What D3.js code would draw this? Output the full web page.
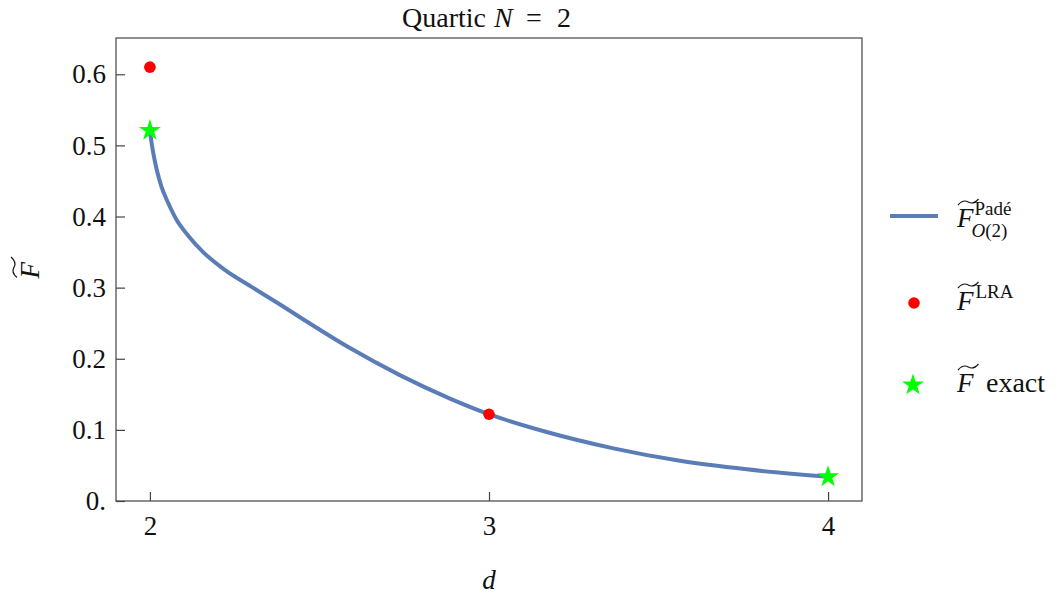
<!DOCTYPE html>
<html>
<head>
<meta charset="utf-8">
<script src="https://cdn.jsdelivr.net/npm/d3@7"></script>
<style>
  body { margin: 0; background: #fff; }
  text { font-family: "Liberation Serif", serif; fill: #111; }
</style>
</head>
<body>
<div id="chart"></div>
<script>
// Curve (Pade approximant) sampled along d
var dValues = [2.0, 2.003, 2.01, 2.02, 2.034, 2.054, 2.079, 2.113, 2.157, 2.221, 2.3, 2.378, 2.447, 2.59, 2.737, 2.885, 3.0, 3.17, 3.367, 3.563, 3.76, 4.0];
var padeValues = [0.521, 0.510, 0.489, 0.466, 0.442, 0.419, 0.395, 0.373, 0.350, 0.325, 0.301, 0.278, 0.257, 0.215, 0.177, 0.144, 0.122, 0.097, 0.074, 0.0565, 0.0445, 0.034];

// LRA points
var lraD = [2, 3];
var lraValues = [0.610, 0.122];

// Exact points
var exactD = [2, 4];
var exactValues = [0.521, 0.034];

var xTicks = [2, 3, 4];
var yTicks = [0, 0.1, 0.2, 0.3, 0.4, 0.5, 0.6];
var yTickLabels = ["0.", "0.1", "0.2", "0.3", "0.4", "0.5", "0.6"];

var lineColor = "#5b7db7";
var lraColor = "#ff0000";
var exactColor = "#00ff00";

var width = 1057, height = 594;
var margin = { top: 38, right: 195, bottom: 93, left: 116 };
var innerWidth = width - margin.left - margin.right;
var innerHeight = height - margin.top - margin.bottom;

var svg = d3.select("#chart").append("svg")
    .attr("width", width)
    .attr("height", height);

var g = svg.append("g")
    .attr("transform", `translate(${margin.left}, ${margin.top})`);

var x = d3.scaleLinear().domain([1.9, 4.1]).range([0, innerWidth]);
var y = d3.scaleLinear().domain([0, 0.651]).range([innerHeight, 0]);

// frame
g.append("rect")
    .attr("x", 0).attr("y", 0)
    .attr("width", innerWidth).attr("height", innerHeight)
    .attr("fill", "none").attr("stroke", "#444").attr("stroke-width", 1.2);

// axes with inward ticks
var xAxis = g.append("g")
    .attr("transform", `translate(0, ${innerHeight})`)
    .call(d3.axisBottom(x).tickValues(xTicks).tickSize(-9).tickPadding(15).tickFormat(d3.format("d")));
var yAxis = g.append("g")
    .call(d3.axisLeft(y).tickValues(yTicks).tickSize(-9).tickPadding(10).tickFormat((d, i) => yTickLabels[i]));

[xAxis, yAxis].forEach(function (a) {
    a.attr("font-size", null).attr("font-family", null);
    a.select(".domain").remove();
    a.selectAll("line").attr("stroke", "#444").attr("stroke-width", 1.2);
    a.selectAll("text").style("font-family", '"Liberation Serif", serif').style("font-size", "27px").attr("fill", "#111");
});

// curve
var line = d3.line()
    .x((d, i) => x(dValues[i]))
    .y(d => y(d))
    .curve(d3.curveMonotoneX);

g.append("path")
    .datum(padeValues)
    .attr("d", line)
    .attr("fill", "none")
    .attr("stroke", lineColor)
    .attr("stroke-width", 4);

// LRA dots
g.selectAll(".lra")
    .data(lraValues)
    .enter().append("circle")
    .attr("cx", (d, i) => x(lraD[i]))
    .attr("cy", d => y(d))
    .attr("r", 5.8)
    .attr("fill", lraColor);

// exact stars
var star = d3.symbol().type(d3.symbolStar).size(150);
g.selectAll(".exact")
    .data(exactValues)
    .enter().append("path")
    .attr("d", star)
    .attr("transform", (d, i) => `translate(${x(exactD[i])}, ${y(d)})`)
    .attr("fill", exactColor);

// helper: italic F with a wide tilde on top
function fTilde(parent, px, py) {
    var t = parent.append("text")
        .attr("x", px).attr("y", py)
        .style("font-size", "27px")
        .style("font-style", "italic")
        .text("F");
    var w = t.node().getComputedTextLength() + 4;
    var x0 = px + 1, y0 = py - 22;
    parent.append("path")
        .attr("d", `M${x0},${y0} Q${x0 + w * 0.25},${y0 - 6} ${x0 + w * 0.5},${y0 - 3} Q${x0 + w * 0.75},${y0} ${x0 + w},${y0 - 6}`)
        .attr("fill", "none")
        .attr("stroke", "#111")
        .attr("stroke-width", 1.2);
    return w - 4;
}

// title
var title = svg.append("text")
    .attr("y", 27)
    .style("font-size", "28px");
title.append("tspan").attr("x", 402).text("Quartic");
title.append("tspan").attr("x", 494).style("font-style", "italic").text("N");
title.append("tspan").attr("x", 526).text("=");
title.append("tspan").attr("x", 557).text("2");

// x label
svg.append("text")
    .attr("x", margin.left + innerWidth / 2)
    .attr("y", 589)
    .attr("text-anchor", "middle")
    .style("font-size", "27px")
    .style("font-style", "italic")
    .text("d");

// y label
var yl = svg.append("g").attr("transform", `translate(39, ${margin.top + innerHeight / 2}) rotate(-90)`);
fTilde(yl, -9, 0);

// legend
var legend = svg.append("g");
var lx = 957;

legend.append("line")
    .attr("x1", 890).attr("x2", 938)
    .attr("y1", 216).attr("y2", 216)
    .attr("stroke", lineColor).attr("stroke-width", 4);
var w1 = fTilde(legend, lx, 227);
legend.append("text").attr("x", lx + w1 + 1).attr("y", 215)
    .style("font-size", "19px").text("Padé");
var sub = legend.append("text").attr("x", lx + w1 - 2).attr("y", 237)
    .style("font-size", "19px");
sub.append("tspan").style("font-style", "italic").text("O");
sub.append("tspan").text("(2)");

legend.append("circle")
    .attr("cx", 914).attr("cy", 303).attr("r", 5.8)
    .attr("fill", lraColor);
var w2 = fTilde(legend, lx, 310);
legend.append("text").attr("x", lx + w2 + 2).attr("y", 298)
    .style("font-size", "19px").text("LRA");

legend.append("path")
    .attr("d", star)
    .attr("transform", "translate(913, 385)")
    .attr("fill", exactColor);
fTilde(legend, lx, 392);
legend.append("text").attr("x", 986).attr("y", 392)
    .style("font-size", "28px").text("exact");
</script>
</body>
</html>
